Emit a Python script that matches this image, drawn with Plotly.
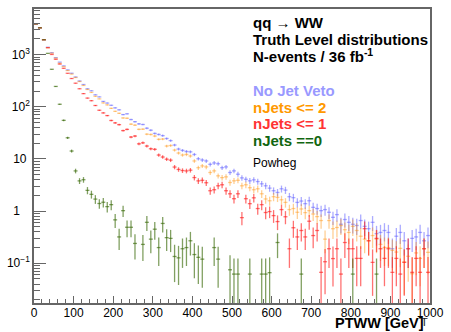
import plotly.graph_objects as go
import math

# ---------------- data ----------------
bin_width = 10.0
pt_centers = [5 + 10 * i for i in range(100)]

no_jet_veto = [
    3890, 3270, 1930, 1390, 1090, 877, 720, 610, 511, 441,
    373, 313, 268, 222, 203, 170, 155, 127, 118, 107,
    95.6, 87.6, 71.0, 73.5, 57.0, 51.8, 47.1, 45.8, 38.9, 35.6,
    30.9, 29.5, 28.0, 24.7, 22.5, 18.5, 15.5, 14.6, 13.9, 13.7,
    12.2, 10.1, 9.56, 9.16, 7.9, 8.39, 8.1, 6.8, 7.04, 5.5,
    5.91, 5.1, 4.34, 4.08, 3.81, 3.98, 3.69, 3.34, 3.06, 2.76,
    2.46, 2.28, 2.68, 2.53, 1.89, 1.81, 1.47, 1.56, 1.39, 1.58,
    1.18, 1.12, 1.02, 1.07, 0.95, 0.76, 0.857, 0.56, 0.69, 0.61,
    0.56, 0.53, 0.66, 0.51, 0.46, 0.61, 0.37, 0.39, 0.425, 0.39,
    0.19, 0.33, 0.39, 0.27, 0.19, 0.30, 0.32, 0.39, 0.27, 0.34,
]

njets_le2 = [
    3890, 3270, 1930, 1360, 1070, 858, 685, 590, 496, 425,
    365, 306, 257, 215, 189, 159, 142, 119, 109, 93.5,
    82.1, 75.2, 61.2, 60.4, 46.5, 44.5, 37.0, 37.3, 29.9, 29.5,
    27.5, 23.8, 24.1, 17.7, 18.1, 14.8, 13.0, 11.9, 12.2, 11.4,
    9.16, 6.8, 7.36, 7.04, 5.5, 5.91, 4.75, 4.39, 4.54, 3.54,
    3.81, 3.9, 3.06, 3.20, 2.81, 2.57, 2.68, 2.15, 1.71, 1.58,
    1.89, 1.83, 1.65, 1.47, 1.07, 1.12, 0.95, 1.10, 0.936, 1.02,
    0.88, 0.785, 0.66, 0.29, 0.66, 0.46, 0.485, 0.53, 0.44, 0.39,
    0.51, 0.425, 0.33, 0.29, 0.27, 0.34, 0.29, 0.23, 0.20, 0.20,
    0.177, 0.164, 0.193, 0.106, 0.136, 0.063, 0.158, 0.124, 0.19, 0.162,
]

njets_le1 = [
    3890, 3270, 1930, 1360, 1010, 815, 660, 548, 440, 349,
    284, 222, 179, 147, 131, 106, 86, 76.4, 68, 54.7,
    49.2, 45.5, 35.0, 36.9, 26.3, 27.5, 19.5, 20.4, 17.7, 15.7,
    15.3, 11.9, 10.9, 9.9, 9.5, 7.0, 6.3, 6.0, 5.9, 6.1,
    4.4, 3.8, 3.9, 3.5, 2.46, 2.57, 3.06, 3.2, 2.46, 2.15,
    1.73, 2.15, 0.75, 1.73, 1.39, 1.8, 1.12, 1.33, 0.94, 0.98,
    0.82, 0.63, 1.07, 0.78, 0.19, 0.48, 0.32, 0.425, 0.32, 0.64,
    0.34, 0.425, 0.067, 0.107, 0.19, 0.123, 0.19, 0.062, 0.25, 0.19,
    0.19, 0.124, 0.124, 0.46, 0.27, 0.104, 0.30, 0.19, 0.124, 0.19,
    0.067, 0.124, 0.062, 0.104, 0.19, 0.067, 0.124, 0.067, 0.19, 0.067,
]

njets_eq0 = [
    3890, 3270, 1930, 1060, 525, 246, 112, 55, 25.5, 14.2,
    5.9, 3.8, 4.0, 2.5, 2.1, 1.7, 1.4, 1.48, 1.22, 1.33,
    0.68, 0.32, 1.02, 0.49, 0.49, 0.24, 0, 0.23, 0.61, 0.29,
    0.45, 0.20, 0.58, 0.31, 0.30, 0.135, 0.127, 0.19, 0.20, 0.27,
    0.147, 0.13, 0.12, 0, 0, 0.2, 0.12, 0, 0, 0.075,
    0.062, 0.062, 0, 0, 0.062, 0, 0, 0.062, 0.062, 0.066,
    0, 0.25, 0, 0, 0, 0, 0, 0.062, 0, 0,
    0, 0, 0, 0, 0, 0, 0, 0, 0, 0,
    0.062, 0, 0, 0, 0, 0, 0.062, 0, 0, 0,
    0, 0, 0, 0, 0, 0, 0, 0, 0, 0,
]

event_weight = 0.062  # approx. weight of one MC event (used for error bars)

series_names = ["No Jet Veto", "nJets <= 2", "nJets <= 1", "nJets ==0"]
series_values = [no_jet_veto, njets_le2, njets_le1, njets_eq0]
bar_colors = ["rgba(90,90,255,0.5)", "rgba(255,140,0,0.42)",
              "rgba(255,20,20,0.6)", "rgba(51,102,0,0.62)"]
text_colors = ["#9999ff", "#ff9900", "#ff3333", "#116611"]

fig = go.Figure()
for name, vals, col in zip(series_names, series_values, bar_colors):
    xs, ys, eu, ed = [], [], [], []
    for x, v in zip(pt_centers, vals):
        if v <= 0:
            continue
        e = math.sqrt(v * event_weight)
        xs.append(x)
        ys.append(v)
        eu.append(e)
        ed.append(min(e, v * 0.99999))
    fig.add_trace(go.Scatter(
        x=xs, y=ys, mode="markers", name=name, showlegend=False,
        marker=dict(size=1, color=col, opacity=0),
        error_x=dict(type="constant", value=bin_width / 2, width=0,
                     thickness=1.3, color=col),
        error_y=dict(type="data", symmetric=False, array=eu, arrayminus=ed,
                     width=0, thickness=1.3, color=col),
    ))

# ---------------- layout ----------------
W, H = 451, 332
L, R, T, B = 30, 15, 7, 29
plot_h = H - T - B

def py(pix):
    return (H - B - pix) / plot_h

def px(pix):
    return (pix - L) / (W - L - R)

font_family = "Liberation Sans, Arial, Helvetica, sans-serif"
axis_col = "#666666"

y_major = [0.1, 1, 10, 100, 1000]
y_major_text = ["10<sup>\u22121</sup>", "1\u00a0\u00a0\u00a0", "10\u00a0", "10<sup>2</sup>", "10<sup>3</sup>"]
y_minor = []
for d in range(-2, 4):
    for k in range(2, 10):
        y_minor.append(k * 10 ** d)

fig.update_layout(
    width=W, height=H,
    margin=dict(l=L, r=R, t=T, b=B, pad=0),
    paper_bgcolor="white", plot_bgcolor="white",
    font=dict(family=font_family, size=12, color="black"),
    xaxis=dict(
        range=[0, 1000], tick0=0, dtick=100,
        ticks="inside", ticklen=7, tickwidth=1, tickcolor=axis_col,
        showline=True, linecolor=axis_col, linewidth=1.5, mirror=True,
        showgrid=False, zeroline=False, ticklabelstandoff=-2,
        tickfont=dict(size=12, color="black"),
        minor=dict(tick0=0, dtick=20, ticks="inside", ticklen=4,
                   tickwidth=1, tickcolor=axis_col, showgrid=False),
    ),
    yaxis=dict(
        type="log", range=[-1.762, 3.876],
        tickmode="array", tickvals=y_major, ticktext=y_major_text,
        ticks="inside", ticklen=12, tickwidth=1, tickcolor=axis_col,
        showline=True, linecolor=axis_col, linewidth=1.5, mirror=True,
        showgrid=False, zeroline=False,
        tickfont=dict(size=12, color="black"),
        minor=dict(tickmode="array", tickvals=y_minor, ticks="inside",
                   ticklen=6, tickwidth=1, tickcolor=axis_col, showgrid=False),
    ),
)

annots = [
    ("qq \u2192 WW", 21, "black", True, 15),
    ("Truth Level distributions", 37.5, "black", True, 15),
    ("N-events / 36 fb<sup>-1</sup>", 54, "black", True, 15),
    (series_names[0], 89, text_colors[0], True, 15),
    (series_names[1], 106, text_colors[1], True, 15),
    (series_names[2], 122.3, text_colors[2], True, 15),
    (series_names[3], 139, text_colors[3], True, 15),
    ("Powheg", 162, "black", False, 12),
]
for txt, ypix, col, bold, size in annots:
    fig.add_annotation(
        text=("<b>%s</b>" % txt) if bold else txt,
        xref="paper", yref="paper", x=px(252.7), y=py(ypix),
        xanchor="left", yanchor="middle", showarrow=False,
        font=dict(family=font_family, size=size, color=col),
    )

fig.add_annotation(
    text="<b>PTWW [GeV]</b>", xref="paper", yref="paper",
    x=px(432), y=py(323), xanchor="right", yanchor="middle",
    showarrow=False, font=dict(family=font_family, size=14.5, color="black"),
)
fig.add_annotation(
    text="T", xref="paper", yref="paper",
    x=px(430.5), y=py(322.5), xanchor="center", yanchor="middle",
    showarrow=False, font=dict(family=font_family, size=11, color="#222222"),
)

fig.write_html("out.html")
